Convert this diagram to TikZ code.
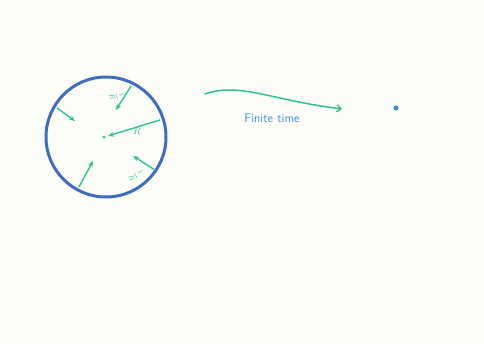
\documentclass[tikz,border=0pt]{standalone}
\usepackage{amsmath}
\usepackage{tikz}
\usetikzlibrary{arrows.meta}
\definecolor{PaperWhite}{HTML}{FDFDF8}
\definecolor{RingBlue}{HTML}{3F6DC2}
\definecolor{FlowGreen}{HTML}{2EC48C}
\definecolor{NoteBlue}{HTML}{3B8FE0}

\begin{document}
\begin{tikzpicture}[x=1pt,y=-1pt,
    push/.style={FlowGreen,line width=1.4pt,-{Stealth[length=6pt,width=5pt]}},
    note/.style={text=FlowGreen,font=\sffamily\fontsize{10}{10}\selectfont,inner sep=0.5pt},
    ratio/.style={text=FlowGreen,font=\fontsize{7}{7}\selectfont,inner sep=0pt}]
      \fill[PaperWhite] (0,0) rectangle (484,344);
      \useasboundingbox (0,0) rectangle (484,344);
      \draw[RingBlue,line width=3pt] (106,137) circle (60);
      \fill[FlowGreen] (104,137) circle (1.6);
      % inward arrows
      \coordinate (topS) at (131,86);   \coordinate (topE) at (116,110);
      \coordinate (leftS) at (57,108);  \coordinate (leftE) at (75,121);
      \coordinate (radS) at (160,120);  \coordinate (radE) at (108,136);
      \coordinate (botS) at (79,187);   \coordinate (botE) at (93,161);
      \coordinate (lowS) at (155,170);  \coordinate (lowE) at (133,156);
      \draw[push] (topS) -- (topE);
      \draw[push] (leftS) -- (leftE);
      \draw[push] (radS) -- (radE);
      \draw[push] (botS) -- (botE);
      \draw[push] (lowS) -- (lowE);
      \node[ratio,rotate=-75] (invR) at (117,96) {$\dfrac{1}{R}$};
      \node[note] (radius) at (137,131) {$R$};
      \node[ratio,rotate=-60] (invRlow) at (136,175) {$\dfrac{1}{R}$};
      % collapse in finite time
      \coordinate (flowS) at (205,94);
      \coordinate (flowE) at (342,109);
      \draw[FlowGreen,line width=1.5pt,line cap=round,-{Straight Barb[length=4pt,width=7pt]}] (flowS)
        .. controls (240,82) and (270,100) .. (flowE);
      \node[text=NoteBlue,font=\sffamily\fontsize{12.5}{14}\selectfont] (finite) at (272,118) {Finite time};
      \fill[NoteBlue] (396,108) circle (2.6);
    \end{tikzpicture}
\end{document}
